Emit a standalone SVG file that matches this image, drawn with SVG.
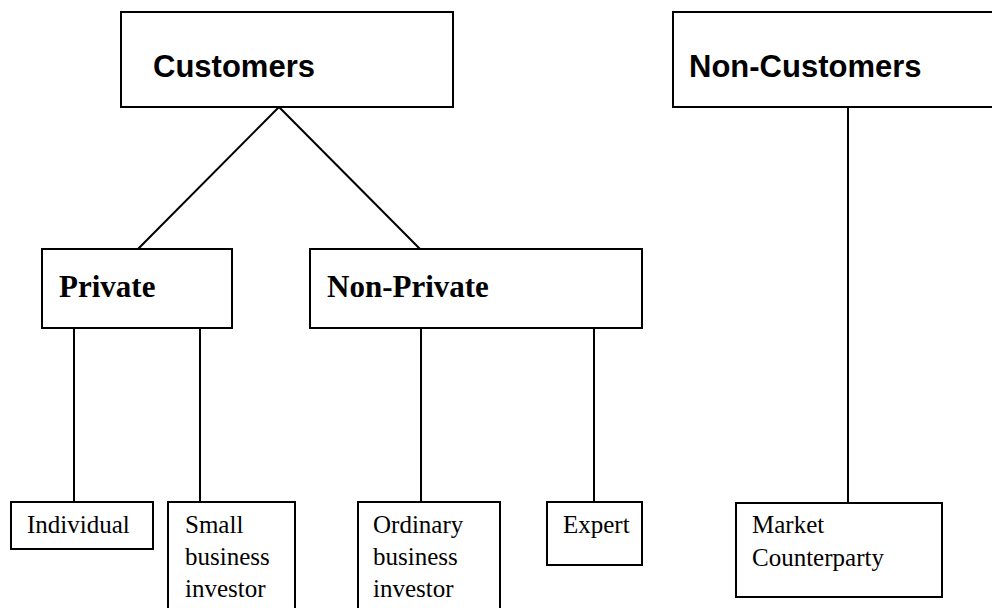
<svg xmlns="http://www.w3.org/2000/svg" width="992" height="608" viewBox="0 0 992 608">
<style>
.box{fill:#fff;stroke:#000;stroke-width:2}
.ln{stroke:#000;stroke-width:2;fill:none}
.hs{font-family:"Liberation Sans",Arial,sans-serif;font-weight:bold;font-size:31px;fill:#000}
.hb{font-family:"Liberation Serif","Times New Roman",serif;font-weight:bold;font-size:31px;fill:#000}
.t{font-family:"Liberation Serif","Times New Roman",serif;font-size:25px;fill:#000}
</style>
<rect width="992" height="608" fill="#fff"/>
<g id="connectors">
<line class="ln" x1="279" y1="107" x2="138" y2="249"/>
<line class="ln" x1="279" y1="107" x2="420" y2="249"/>
<line class="ln" x1="74" y1="328" x2="74" y2="502"/>
<line class="ln" x1="200" y1="328" x2="200" y2="502"/>
<line class="ln" x1="421" y1="328" x2="421" y2="502"/>
<line class="ln" x1="594" y1="328" x2="594" y2="502"/>
<line class="ln" x1="848" y1="107" x2="848" y2="503"/>
</g>
<g id="customers">
<rect class="box" x="121" y="12" width="332" height="95"/>
<text class="hs" x="153" y="77">Customers</text>
</g>
<g id="non-customers">
<rect class="box" x="673" y="12" width="322" height="95"/>
<text class="hs" x="689" y="77">Non-Customers</text>
</g>
<g id="private">
<rect class="box" x="42" y="249" width="190" height="79"/>
<text class="hb" x="59" y="297">Private</text>
</g>
<g id="non-private">
<rect class="box" x="310" y="249" width="332" height="79"/>
<text class="hb" x="327" y="297">Non-Private</text>
</g>
<g id="individual">
<rect class="box" x="11" y="502" width="142" height="47"/>
<text class="t" x="27" y="533">Individual</text>
</g>
<g id="small-business">
<rect class="box" x="168" y="502" width="127" height="112"/>
<text class="t" x="185" y="533">Small</text>
<text class="t" x="185" y="565">business</text>
<text class="t" x="185" y="597">investor</text>
</g>
<g id="ordinary-business">
<rect class="box" x="358" y="502" width="142" height="112"/>
<text class="t" x="373" y="533">Ordinary</text>
<text class="t" x="373" y="565">business</text>
<text class="t" x="373" y="597">investor</text>
</g>
<g id="expert">
<rect class="box" x="547" y="502" width="95" height="63"/>
<text class="t" x="563" y="533">Expert</text>
</g>
<g id="market-counterparty">
<rect class="box" x="736" y="503" width="206" height="94"/>
<text class="t" x="752" y="533">Market</text>
<text class="t" x="752" y="566">Counterparty</text>
</g>
</svg>
